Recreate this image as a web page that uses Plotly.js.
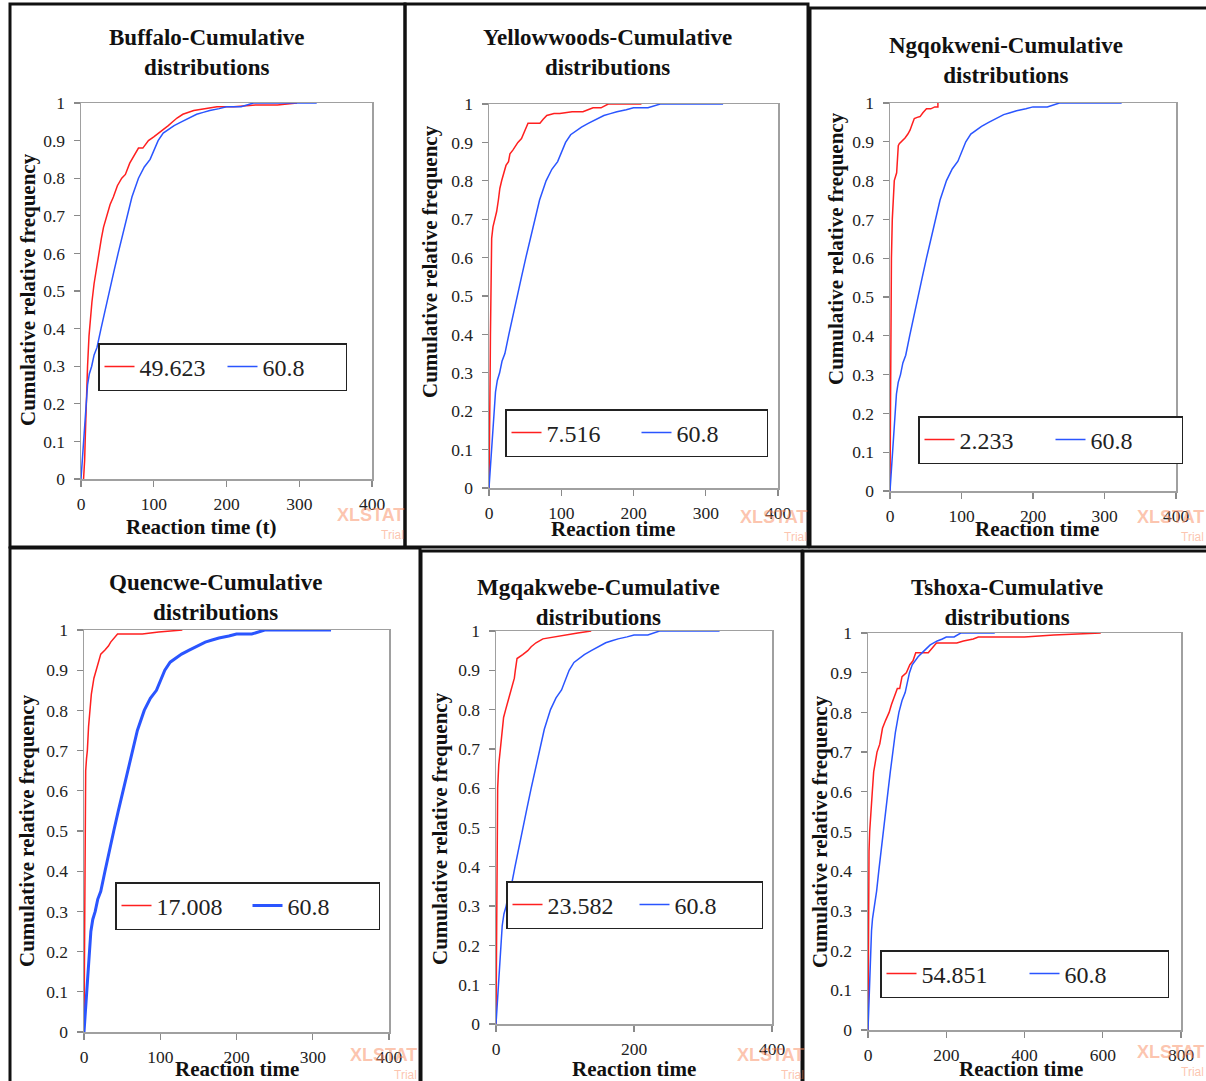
<!DOCTYPE html>
<html>
<head>
<meta charset="utf-8">
<script src="https://cdn.plot.ly/plotly-3.0.1.min.js"></script>
<style>html,body{margin:0;padding:0;background:#fff;}#chart{width:1206px;height:1081px;}</style>
</head>
<body>
<div id="chart"></div>
<script>
// ---------- DATA ----------
const panelTitles = ["Buffalo-Cumulative<br>distributions", "Yellowwoods-Cumulative<br>distributions", "Ngqokweni-Cumulative<br>distributions",
  "Quencwe-Cumulative<br>distributions", "Mgqakwebe-Cumulative<br>distributions", "Tshoxa-Cumulative<br>distributions"];
const xTitles = ["Reaction time (t)", "Reaction time", "Reaction time", "Reaction time", "Reaction time", "Reaction time"];
const yTitle = "Cumulative relative frequency";
const redNames = ["49.623", "7.516", "2.233", "17.008", "23.582", "54.851"];
const blueName = "60.8";

// common reference distribution (60.8)
const blueX = [0, 2, 4, 5.5, 7, 9, 11.5, 14.7, 18, 22, 27.5, 33, 39, 45, 51, 57, 63, 70, 79, 87, 95, 101, 106, 113, 120, 128, 138, 148, 159, 168, 177, 190, 200, 220, 237, 280, 324];
const blueY = [0, 0.06, 0.1, 0.15, 0.2, 0.25, 0.28, 0.3, 0.33, 0.35, 0.4, 0.45, 0.5, 0.55, 0.6, 0.65, 0.7, 0.75, 0.8, 0.83, 0.85, 0.875, 0.9, 0.92, 0.93, 0.94, 0.95, 0.96, 0.97, 0.975, 0.98, 0.985, 0.99, 0.99, 1, 1, 1];

const buffaloX = [3.5, 5, 6, 7, 9, 11, 12.4, 15, 18, 21, 24.5, 28, 31, 35, 40, 44.5, 50, 56, 61, 67, 73, 79, 85, 92.7, 100, 107, 113, 120, 126, 132, 140, 155, 170, 187, 210, 240, 270, 297];
const buffaloY = [0, 0.05, 0.12, 0.2, 0.3, 0.38, 0.42, 0.47, 0.52, 0.56, 0.6, 0.64, 0.67, 0.7, 0.73, 0.75, 0.78, 0.8, 0.81, 0.84, 0.86, 0.88, 0.88, 0.9, 0.91, 0.92, 0.93, 0.94, 0.95, 0.96, 0.97, 0.98, 0.985, 0.99, 0.99, 0.995, 0.995, 1];

const yellowX = [0, 0.8, 1.2, 1.6, 2, 2.3, 3, 3.7, 5.5, 8.3, 10.6, 13, 15, 17.5, 20, 23.5, 27, 29, 33, 36, 40, 45, 50, 54, 60, 70.5, 75, 80, 90, 98, 115, 130, 137, 144, 155, 165, 185, 211];
const yellowY = [0, 0.1, 0.2, 0.3, 0.4, 0.5, 0.6, 0.65, 0.68, 0.7, 0.72, 0.75, 0.78, 0.8, 0.82, 0.84, 0.85, 0.87, 0.88, 0.89, 0.9, 0.91, 0.93, 0.95, 0.95, 0.95, 0.96, 0.97, 0.975, 0.975, 0.98, 0.98, 0.985, 0.99, 0.99, 1, 1, 1];

const ngqoX = [0, 0.5, 1, 1.5, 2, 3.2, 4.5, 6, 9.3, 11.6, 13, 16, 21, 25, 28, 31, 34, 38, 42, 46, 51, 57, 62.6, 67, 67];
const ngqoY = [0, 0.2, 0.4, 0.5, 0.6, 0.7, 0.75, 0.8, 0.82, 0.89, 0.895, 0.9, 0.91, 0.92, 0.93, 0.945, 0.96, 0.963, 0.965, 0.975, 0.985, 0.985, 0.99, 0.99, 1];

const quencX = [0, 0.5, 1, 1.5, 2.2, 3.3, 4.4, 6, 7.4, 9.6, 13, 16, 19, 22, 27.5, 32, 35, 39, 44, 60, 76.5, 98, 129];
const quencY = [0, 0.2, 0.4, 0.6, 0.65, 0.68, 0.7, 0.76, 0.8, 0.84, 0.88, 0.9, 0.92, 0.94, 0.95, 0.96, 0.97, 0.98, 0.99, 0.99, 0.99, 0.995, 1];

const mgqaX = [0, 0.8, 1.5, 2.4, 4, 6.3, 8.5, 11, 14, 17, 20, 23, 26.6, 28, 30.5, 38.7, 46, 51, 58, 68, 85, 97, 118.5, 138];
const mgqaY = [0, 0.2, 0.4, 0.6, 0.66, 0.7, 0.75, 0.78, 0.8, 0.82, 0.84, 0.86, 0.88, 0.9, 0.93, 0.94, 0.95, 0.96, 0.97, 0.98, 0.985, 0.99, 0.995, 1];

const tshoX = [0, 1, 2.6, 4.3, 7, 11, 14.5, 18, 23, 30, 37, 45, 54, 60, 68, 75, 81, 87, 98, 107, 115, 122, 154, 162, 175, 227, 244, 269, 282, 400, 475, 595];
const tshoY = [0, 0.25, 0.45, 0.5, 0.55, 0.6, 0.65, 0.67, 0.7, 0.72, 0.76, 0.78, 0.8, 0.82, 0.84, 0.86, 0.86, 0.89, 0.9, 0.92, 0.93, 0.95, 0.95, 0.96, 0.975, 0.975, 0.98, 0.985, 0.99, 0.99, 0.995, 1];

const redXs = [buffaloX, yellowX, ngqoX, quencX, mgqaX, tshoX];
const redYs = [buffaloY, yellowY, ngqoY, quencY, mgqaY, tshoY];
const xMaxes = [400, 400, 400, 400, 400, 800];
const xDticks = [100, 100, 100, 100, 200, 200];

// ---------- LAYOUT (pixels) ----------
const W = 1206, H = 1081;
const px = v => v / W;
const py = v => 1 - v / H;
const panels = [
  {box:[10,4,405,547],  plot:[81,103,372,479],  title:[207,53], ytl:[28,290],  xtl:[201,527],  leg:[98,343,78],  wm:[370,515]},
  {box:[405,4,808,547], plot:[489,104,778,488], title:[607,53], ytl:[430,262], xtl:[613,529],  leg:[505,409,85], wm:[773,517]},
  {box:[810,8,1210,547],plot:[890,103,1176,491],title:[1006,60],ytl:[836,249], xtl:[1037,529], leg:[918,416,86], wm:[1170,517]},
  {box:[10,548,420,1085],plot:[84,630,389,1032],title:[215,597],ytl:[27,831], xtl:[237,1069], leg:[115,882,86], wm:[383,1055]},
  {box:[421,551,802,1085],plot:[496,631,772,1024],title:[598,602],ytl:[440,829],xtl:[634,1069], leg:[506,881,82], wm:[770,1055]},
  {box:[803,551,1210,1085],plot:[868,633,1181,1030],title:[1007,602],ytl:[820,832],xtl:[1021,1069],leg:[880,950,98], wm:[1170,1052]}
];

const serif = "Liberation Serif";
const wmFont = "Liberation Sans";
const RED = "#ff1f1f", BLUE = "#2a55ff";
const WM = "rgba(249,140,95,0.5)";
const data = [];
const layout = {
  width: W, height: H, margin: {l:0, r:0, t:0, b:0},
  paper_bgcolor: "#fff", plot_bgcolor: "#fff",
  font: {family: serif, color: "#222"},
  showlegend: true, shapes: [], annotations: []
};

panels.forEach((p, i) => {
  const n = i + 1;
  const xa = n === 1 ? "x" : "x" + n, ya = n === 1 ? "y" : "y" + n;
  const lg = n === 1 ? "legend" : "legend" + n;
  data.push({x: redXs[i], y: redYs[i], xaxis: xa, yaxis: ya, type: "scatter", mode: "lines",
    name: redNames[i], line: {color: RED, width: 1.5}, legend: lg, showlegend: true, cliponaxis: false});
  data.push({x: blueX, y: blueY, xaxis: xa, yaxis: ya, type: "scatter", mode: "lines",
    name: blueName, line: {color: BLUE, width: i === 3 ? 3 : 1.5}, legend: lg, showlegend: true, cliponaxis: false});
  const axCommon = {showgrid: false, zeroline: false, showline: true, linecolor: "#a0a0a0", linewidth: 1.5,
    mirror: true, ticks: "outside", ticklen: 6, tickcolor: "#8a8a8a", tickwidth: 1.2,
    tickfont: {family: serif, size: 17.5, color: "#222"}, fixedrange: true};
  layout[n === 1 ? "xaxis" : "xaxis" + n] = Object.assign({}, axCommon, {
    domain: [px(p.plot[0]), px(p.plot[2])], anchor: ya, range: [0, xMaxes[i]], dtick: xDticks[i], tick0: 0,
    ticklabelstandoff: 2});
  layout[n === 1 ? "yaxis" : "yaxis" + n] = Object.assign({}, axCommon, {
    domain: [py(p.plot[3]), py(p.plot[1])], anchor: xa, range: [0, 1], dtick: 0.1, tick0: 0,
    ticklabelstandoff: 5});
  layout[lg] = {x: px(p.leg[0]), y: py(p.leg[1]), xanchor: "left", yanchor: "top", orientation: "h",
    entrywidth: p.leg[2], bgcolor: "#fff", bordercolor: "#222", borderwidth: 1.5,
    font: {family: serif, size: 24, color: "#222"}, valign: "middle", visible: true};
  layout.shapes.push({type: "rect", xref: "paper", yref: "paper",
    x0: px(p.box[0]), x1: px(p.box[2]), y0: py(p.box[3]), y1: py(p.box[1]),
    line: {color: "#111", width: 3}, fillcolor: "rgba(0,0,0,0)", layer: "above"});
  layout.annotations.push({xref: "paper", yref: "paper", x: px(p.title[0]), y: py(p.title[1]),
    text: "<b>" + panelTitles[i] + "</b>", showarrow: false, xanchor: "center", yanchor: "middle",
    font: {family: serif, size: 23, color: "#111"}});
  layout.annotations.push({xref: "paper", yref: "paper", x: px(p.ytl[0]), y: py(p.ytl[1]),
    text: "<b>" + yTitle + "</b>", textangle: -90, showarrow: false, xanchor: "center", yanchor: "middle",
    font: {family: serif, size: 21, color: "#111"}});
  layout.annotations.push({xref: "paper", yref: "paper", x: px(p.xtl[0]), y: py(p.xtl[1]),
    text: "<b>" + xTitles[i] + "</b>", showarrow: false, xanchor: "center", yanchor: "middle",
    font: {family: serif, size: 21, color: "#111"}});
  layout.annotations.push({xref: "paper", yref: "paper", x: px(p.wm[0]), y: py(p.wm[1]),
    text: "<b>XLSTAT</b>", showarrow: false, xanchor: "center", yanchor: "middle",
    font: {family: wmFont, size: 18, color: WM}});
  layout.annotations.push({xref: "paper", yref: "paper", x: px(p.wm[0] + 22), y: py(p.wm[1] + 20),
    text: "Trial", showarrow: false, xanchor: "center", yanchor: "middle",
    font: {family: wmFont, size: 12, color: WM}});
});

Plotly.newPlot("chart", data, layout, {staticPlot: true});
</script>
</body>
</html>
